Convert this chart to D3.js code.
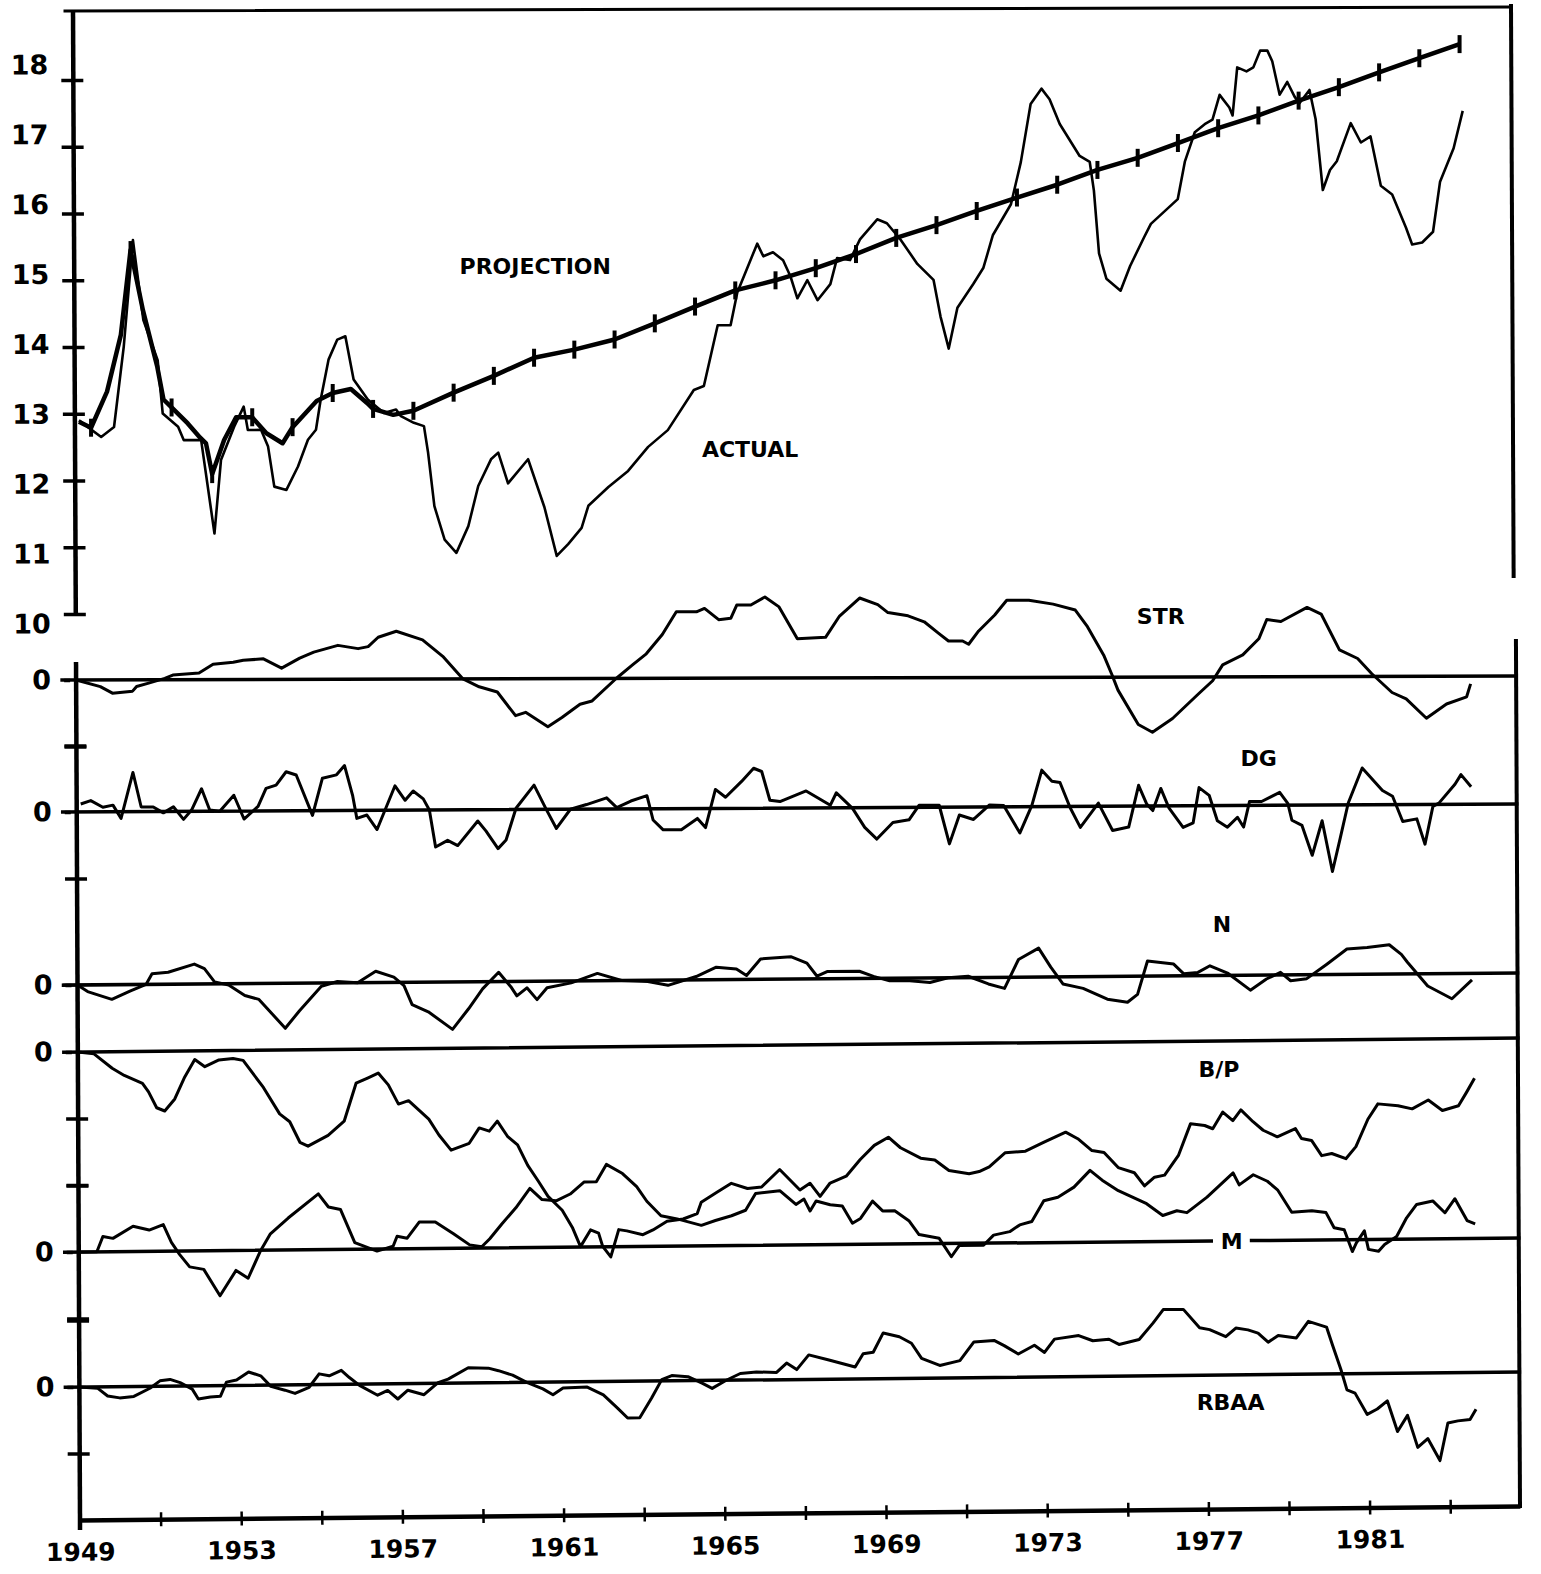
<!DOCTYPE html>
<html>
<head>
<meta charset="utf-8">
<script src="https://cdn.jsdelivr.net/npm/d3@7"></script>
<style>
  body { margin: 0; background: #fff; }
  text { font-family: "DejaVu Sans", sans-serif; font-weight: bold; fill: #000; }
</style>
</head>
<body>
<svg id="chart"></svg>
<script>
// ---- data ----
var actualYears = [1949.1, 1949.65, 1949.97, 1950.22, 1950.46, 1950.71, 1951.06, 1951.18, 1951.56, 1951.7,
  1952.13, 1952.45, 1952.62, 1952.95, 1953.19, 1953.29, 1953.62, 1953.79, 1953.94, 1954.24,
  1954.53, 1954.78, 1954.98, 1955.1, 1955.3, 1955.52, 1955.72, 1955.92, 1956.27, 1956.67,
  1956.97, 1957.09, 1957.41, 1957.66, 1957.76, 1957.91, 1958.16, 1958.45, 1958.75, 1959.0,
  1959.32, 1959.5, 1959.74, 1960.24, 1960.64, 1960.94, 1961.23, 1961.56, 1961.73, 1962.23,
  1962.72, 1963.22, 1963.71, 1964.36, 1964.61, 1964.96, 1965.28, 1965.45, 1965.95, 1966.1,
  1966.34, 1966.59, 1966.77, 1966.94, 1967.19, 1967.44, 1967.76, 1967.93, 1968.25, 1968.5,
  1968.93, 1969.17, 1969.5, 1969.92, 1970.32, 1970.49, 1970.69, 1970.91, 1971.31, 1971.56,
  1971.8, 1972.25, 1972.5, 1972.75, 1973.02, 1973.22, 1973.47, 1973.96, 1974.21, 1974.31,
  1974.43, 1974.61, 1974.96, 1975.2, 1975.55, 1975.72, 1976.39, 1976.57, 1976.82, 1977.09,
  1977.26, 1977.44, 1977.68, 1977.76, 1977.88, 1978.11, 1978.28, 1978.45, 1978.63, 1978.75,
  1978.93, 1979.12, 1979.3, 1979.42, 1979.67, 1979.82, 1979.99, 1980.17, 1980.34, 1980.69,
  1980.94, 1981.18, 1981.43, 1981.71, 1982.05, 1982.2, 1982.45, 1982.72, 1982.9, 1983.24, 1983.47];
var actualValues = [12.9, 12.65, 12.8, 14.0, 15.6, 14.4, 13.8, 13.0, 12.8, 12.6,
  12.6, 11.2, 12.3, 12.8, 13.1, 12.75, 12.75, 12.5, 11.9, 11.85,
  12.2, 12.6, 12.75, 13.2, 13.8, 14.1, 14.15, 13.5, 13.2, 13.0,
  13.05, 12.95, 12.85, 12.8, 12.4, 11.6, 11.1, 10.9, 11.3, 11.9,
  12.3, 12.4, 11.94, 12.3, 11.58, 10.85, 11.03, 11.27, 11.6, 11.88,
  12.12, 12.48, 12.73, 13.33, 13.39, 14.3, 14.3, 14.79, 15.52, 15.33,
  15.39, 15.27, 15.03, 14.7, 14.97, 14.67, 14.91, 15.3, 15.27, 15.58,
  15.88, 15.82, 15.58, 15.21, 14.97, 14.42, 13.94, 14.55, 14.91, 15.15,
  15.64, 16.1, 16.73, 17.6, 17.83, 17.67, 17.3, 16.82, 16.73, 16.3,
  15.36, 14.98, 14.8, 15.17, 15.6, 15.8, 16.17, 16.73, 17.17, 17.3,
  17.36, 17.73, 17.54, 17.42, 18.14, 18.08, 18.14, 18.39, 18.39, 18.23,
  17.73, 17.92, 17.7, 17.6, 17.8, 17.36, 16.3, 16.6, 16.73, 17.3,
  17.01, 17.1, 16.36, 16.23, 15.73, 15.48, 15.51, 15.67, 16.42, 16.92, 17.48];

var projYears = [1949.1, 1949.4, 1949.8, 1950.15, 1950.4, 1950.7, 1951.05, 1951.2, 1951.4, 1951.8,
  1952.1, 1952.25, 1952.4, 1952.7, 1953.0, 1953.4, 1953.75, 1954.15, 1954.4, 1955.0,
  1955.4, 1955.85, 1956.25, 1956.4, 1956.9, 1957.4, 1958.4, 1959.4, 1960.4, 1961.4,
  1962.4, 1963.4, 1964.4, 1965.4, 1966.4, 1967.4, 1968.4, 1969.4, 1970.4, 1971.4,
  1972.4, 1973.4, 1974.4, 1975.4, 1976.4, 1977.4, 1978.4, 1979.4, 1980.4, 1981.4,
  1982.4, 1983.4];
var projValues = [12.88, 12.79, 13.33, 14.18, 15.45, 14.55, 13.7, 13.21, 13.09, 12.85,
  12.64, 12.55, 12.09, 12.6, 12.94, 12.94, 12.7, 12.55, 12.79, 13.18,
  13.3, 13.36, 13.15, 13.06, 12.97, 13.03, 13.3, 13.55, 13.82, 13.94,
  14.09, 14.33, 14.58, 14.82, 14.97, 15.15, 15.36, 15.6, 15.79, 16.0,
  16.2, 16.39, 16.61, 16.79, 17.01, 17.23, 17.42, 17.64, 17.84, 18.06,
  18.27, 18.48];
var projMarkYears = [1949.4, 1950.4, 1951.4, 1952.4, 1953.4, 1954.4, 1955.4, 1956.4, 1957.4, 1958.4,
  1959.4, 1960.4, 1961.4, 1962.4, 1963.4, 1964.4, 1965.4, 1966.4, 1967.4, 1968.4,
  1969.4, 1970.4, 1971.4, 1972.4, 1973.4, 1974.4, 1975.4, 1976.4, 1977.4, 1978.4,
  1979.4, 1980.4, 1981.4, 1982.4, 1983.4];

var strYears = [1949.0, 1949.6, 1949.9, 1950.4, 1950.5, 1950.8, 1951.2, 1951.4, 1952.05, 1952.4,
  1952.9, 1953.15, 1953.65, 1954.1, 1954.55, 1954.9, 1955.5, 1956.0, 1956.25, 1956.5,
  1956.95, 1957.6, 1958.1, 1958.6, 1959.0, 1959.45, 1959.9, 1960.15, 1960.7, 1961.05,
  1961.5, 1961.8, 1962.4, 1962.8, 1963.15, 1963.55, 1963.9, 1964.4, 1964.6, 1964.95,
  1965.25, 1965.4, 1965.75, 1966.1, 1966.45, 1966.9, 1967.6, 1967.95, 1968.45, 1968.9,
  1969.15, 1969.65, 1970.05, 1970.4, 1970.65, 1971.0, 1971.15, 1971.4, 1971.8, 1972.1,
  1972.65, 1973.25, 1973.8, 1974.1, 1974.5, 1974.7, 1974.85, 1975.35, 1975.7, 1976.2,
  1976.85, 1977.2, 1977.45, 1977.95, 1978.35, 1978.55, 1978.9, 1979.55, 1979.9, 1980.35,
  1980.8, 1981.15, 1981.65, 1982.0, 1982.5, 1983.0, 1983.5, 1983.6];
var strValues = [0, -0.1, -0.2, -0.17, -0.1, -0.05, 0.02, 0.07, 0.1, 0.23,
  0.26, 0.29, 0.31, 0.17, 0.32, 0.41, 0.51, 0.46, 0.49, 0.63,
  0.72, 0.59, 0.34, 0, -0.12, -0.2, -0.56, -0.51, -0.73, -0.59,
  -0.39, -0.34, 0, 0.2, 0.37, 0.66, 1.0, 1.0, 1.05, 0.88,
  0.9, 1.1, 1.1, 1.22, 1.07, 0.59, 0.61, 0.93, 1.2, 1.1,
  0.98, 0.93, 0.84, 0.67, 0.55, 0.55, 0.5, 0.7, 0.94, 1.16,
  1.16, 1.1, 1.01, 0.76, 0.33, 0.04, -0.2, -0.73, -0.85, -0.64,
  -0.26, -0.06, 0.18, 0.33, 0.57, 0.86, 0.83, 1.04, 0.94, 0.4,
  0.27, 0.04, -0.25, -0.35, -0.65, -0.43, -0.32, -0.12];

var dgYears = [1949.1, 1949.35, 1949.65, 1949.9, 1950.1, 1950.4, 1950.6, 1950.9, 1951.15, 1951.4,
  1951.65, 1951.85, 1952.1, 1952.3, 1952.55, 1952.9, 1953.15, 1953.5, 1953.7, 1953.95,
  1954.2, 1954.45, 1954.85, 1955.1, 1955.45, 1955.65, 1955.85, 1955.95, 1956.2, 1956.45,
  1956.9, 1957.15, 1957.35, 1957.6, 1957.75, 1957.9, 1958.2, 1958.45, 1958.95, 1959.15,
  1959.45, 1959.65, 1959.9, 1960.35, 1960.65, 1960.9, 1961.25, 1961.65, 1962.15, 1962.4,
  1962.75, 1963.15, 1963.3, 1963.55, 1964.0, 1964.4, 1964.6, 1964.85, 1965.1, 1965.5,
  1965.8, 1966.0, 1966.2, 1966.45, 1967.1, 1967.7, 1967.85, 1968.0, 1968.25, 1968.55,
  1968.85, 1969.25, 1969.65, 1969.9, 1970.4, 1970.65, 1970.9, 1971.25, 1971.65, 1972.0,
  1972.4, 1972.7, 1972.95, 1973.2, 1973.4, 1973.65, 1973.9, 1974.35, 1974.7, 1975.1,
  1975.35, 1975.55, 1975.7, 1975.9, 1976.1, 1976.45, 1976.7, 1976.85, 1977.1, 1977.3,
  1977.55, 1977.8, 1977.95, 1978.1, 1978.4, 1978.85, 1979.05, 1979.15, 1979.4, 1979.65,
  1979.9, 1980.15, 1980.35, 1980.55, 1980.9, 1981.4, 1981.65, 1981.9, 1982.25, 1982.45,
  1982.65, 1982.8, 1983.2, 1983.35, 1983.6];
var dgValues = [0.12, 0.17, 0.07, 0.1, -0.1, 0.59, 0.07, 0.07, -0.02, 0.07,
  -0.12, 0.02, 0.34, 0.02, 0, 0.24, -0.12, 0.07, 0.34, 0.39,
  0.59, 0.54, -0.07, 0.49, 0.54, 0.68, 0.22, -0.12, -0.07, -0.29,
  0.37, 0.15, 0.29, 0.17, 0, -0.56, -0.46, -0.54, -0.17, -0.32,
  -0.59, -0.46, 0.02, 0.37, 0, -0.29, 0, 0.07, 0.17, 0.02,
  0.12, 0.2, -0.17, -0.32, -0.32, -0.15, -0.29, 0.29, 0.17, 0.41,
  0.61, 0.56, 0.12, 0.1, 0.26, 0.04, 0.23, 0.14, -0.01, -0.3,
  -0.48, -0.23, -0.19, 0.03, 0.03, -0.56, -0.12, -0.19, 0.03, 0.02,
  -0.4, 0.02, 0.56, 0.39, 0.37, -0.02, -0.32, 0.05, -0.37, -0.32,
  0.32, 0.03, -0.07, 0.27, -0.03, -0.33, -0.26, 0.28, 0.16, -0.23,
  -0.33, -0.18, -0.33, 0.06, 0.06, 0.2, 0.03, -0.23, -0.31, -0.77,
  -0.24, -1.02, -0.5, 0.03, 0.57, 0.22, 0.13, -0.26, -0.22, -0.61,
  -0.03, 0.02, 0.31, 0.46, 0.27];

var nYears = [1949.0, 1949.25, 1949.85, 1950.3, 1950.7, 1950.85, 1951.25, 1951.9, 1952.15, 1952.4,
  1952.75, 1953.15, 1953.5, 1954.15, 1954.5, 1955.05, 1955.45, 1955.95, 1956.4, 1956.85,
  1957.1, 1957.3, 1957.7, 1958.3, 1958.7, 1959.05, 1959.45, 1959.75, 1959.9, 1960.15,
  1960.4, 1960.65, 1961.25, 1961.9, 1962.5, 1963.15, 1963.65, 1964.35, 1964.85, 1965.35,
  1965.6, 1965.95, 1966.7, 1967.1, 1967.35, 1967.6, 1968.4, 1968.75, 1969.15, 1969.65,
  1970.15, 1970.6, 1971.1, 1971.6, 1972.0, 1972.35, 1972.85, 1973.15, 1973.45, 1973.95,
  1974.55, 1975.05, 1975.3, 1975.55, 1976.2, 1976.45, 1976.8, 1977.1, 1977.55, 1978.1,
  1978.5, 1978.85, 1979.1, 1979.5, 1980.0, 1980.5, 1981.0, 1981.55, 1981.85, 1982.0,
  1982.5, 1983.1, 1983.6];
var nValues = [0, -0.1, -0.22, -0.1, 0.0, 0.16, 0.18, 0.3, 0.23, 0.03,
  -0.02, -0.18, -0.24, -0.68, -0.42, -0.05, 0.02, 0, 0.17, 0.08,
  -0.05, -0.34, -0.45, -0.72, -0.41, -0.11, 0.14, -0.08, -0.22, -0.1,
  -0.28, -0.1, -0.03, 0.11, 0.0, -0.02, -0.08, 0.05, 0.19, 0.16,
  0.06, 0.31, 0.34, 0.24, 0.04, 0.11, 0.11, 0.03, -0.04, -0.04,
  -0.07, 0, 0.02, -0.1, -0.17, 0.27, 0.44, 0.15, -0.11, -0.18,
  -0.35, -0.4, -0.28, 0.23, 0.18, 0.03, 0.05, 0.15, 0.03, -0.23,
  -0.06, 0.04, -0.09, -0.06, 0.16, 0.39, 0.41, 0.45, 0.3, 0.18,
  -0.19, -0.39, -0.1];

var bpYears = [1949.0, 1949.4, 1949.85, 1950.15, 1950.6, 1950.75, 1950.95, 1951.15, 1951.4, 1951.65,
  1951.9, 1952.15, 1952.5, 1952.85, 1953.1, 1953.6, 1954.0, 1954.25, 1954.5, 1954.7,
  1955.2, 1955.6, 1955.9, 1956.2, 1956.45, 1956.7, 1956.95, 1957.2, 1957.7, 1957.95,
  1958.25, 1958.7, 1958.95, 1959.2, 1959.4, 1959.65, 1959.9, 1960.15, 1960.4, 1960.65,
  1961.0, 1961.25, 1961.45, 1961.7, 1961.9, 1962.0, 1962.2, 1962.4, 1962.6, 1963.0,
  1963.25, 1963.6, 1964.0, 1964.35, 1964.45, 1964.85, 1965.2, 1965.6, 1965.95, 1966.4,
  1966.9, 1967.15, 1967.4, 1967.65, 1968.05, 1968.4, 1968.75, 1969.1, 1969.4, 1969.9,
  1970.25, 1970.6, 1971.1, 1971.35, 1971.6, 1972.0, 1972.5, 1972.95, 1973.5, 1973.8,
  1974.15, 1974.45, 1974.8, 1975.2, 1975.45, 1975.7, 1975.95, 1976.3, 1976.6, 1976.95,
  1977.15, 1977.4, 1977.65, 1977.85, 1978.15, 1978.4, 1978.75, 1979.2, 1979.35, 1979.6,
  1979.85, 1980.1, 1980.45, 1980.7, 1981.0, 1981.25, 1981.75, 1982.1, 1982.5, 1982.85,
  1983.25, 1983.45, 1983.65];
var bpValues = [0, -0.03, -0.25, -0.36, -0.48, -0.61, -0.85, -0.9, -0.72, -0.39,
  -0.13, -0.24, -0.14, -0.12, -0.15, -0.56, -0.96, -1.08, -1.39, -1.45,
  -1.29, -1.08, -0.51, -0.43, -0.36, -0.54, -0.83, -0.78, -1.06, -1.3,
  -1.53, -1.43, -1.2, -1.25, -1.1, -1.33, -1.46, -1.77, -2.0, -2.24,
  -2.45, -2.71, -3.0, -2.75, -2.8, -3.0, -3.16, -2.75, -2.77, -2.83,
  -2.76, -2.63, -2.6, -2.52, -2.35, -2.2, -2.07, -2.15, -2.13, -1.87,
  -2.18, -2.08, -2.28, -2.08, -1.98, -1.73, -1.52, -1.4, -1.56, -1.72,
  -1.75, -1.91, -1.96, -1.93, -1.86, -1.65, -1.63, -1.5, -1.35, -1.45,
  -1.63, -1.66, -1.89, -1.97, -2.17, -2.04, -2.01, -1.71, -1.24, -1.27,
  -1.32, -1.07, -1.2, -1.04, -1.22, -1.35, -1.45, -1.33, -1.48, -1.51,
  -1.74, -1.71, -1.79, -1.61, -1.2, -0.97, -1.0, -1.05, -0.92, -1.08,
  -1.01, -0.81, -0.6];

var mYears = [1949.0, 1949.45, 1949.6, 1949.85, 1950.35, 1950.75, 1951.1, 1951.3, 1951.5, 1951.75,
  1952.1, 1952.5, 1952.9, 1953.2, 1953.5, 1953.75, 1954.2, 1954.95, 1955.2, 1955.5,
  1955.85, 1956.4, 1956.8, 1956.9, 1957.15, 1957.45, 1957.85, 1958.3, 1958.7, 1959.0,
  1959.2, 1959.5, 1959.85, 1960.2, 1960.5, 1960.85, 1961.2, 1961.55, 1961.85, 1962.1,
  1962.5, 1962.85, 1963.1, 1963.45, 1963.85, 1964.45, 1964.8, 1965.2, 1965.55, 1965.8,
  1966.4, 1966.8, 1967.0, 1967.15, 1967.3, 1967.65, 1967.95, 1968.2, 1968.4, 1968.7,
  1968.95, 1969.25, 1969.6, 1969.85, 1970.35, 1970.65, 1970.85, 1971.45, 1971.7, 1972.1,
  1972.35, 1972.65, 1972.95, 1973.3, 1973.7, 1974.1, 1974.4, 1974.8, 1975.15, 1975.5,
  1975.9, 1976.25, 1976.5, 1977.0, 1977.65, 1977.8, 1978.15, 1978.5, 1978.75, 1979.1,
  1979.6, 1979.95, 1980.15, 1980.4, 1980.6, 1980.7, 1980.9, 1981.0, 1981.25, 1981.4,
  1981.7, 1981.95, 1982.2, 1982.6, 1982.9, 1983.15, 1983.45, 1983.65];
var mValues = [0, 0, 0.23, 0.2, 0.38, 0.32, 0.4, 0.13, -0.05, -0.24,
  -0.28, -0.68, -0.3, -0.42, -0.02, 0.24, 0.48, 0.84, 0.64, 0.6,
  0.1, -0.03, 0.04, 0.19, 0.16, 0.4, 0.4, 0.22, 0.05, 0.02,
  0.14, 0.36, 0.6, 0.89, 0.72, 0.7, 0.8, 0.98, 0.98, 1.24,
  1.1, 0.9, 0.68, 0.46, 0.41, 0.31, 0.38, 0.45, 0.53, 0.78,
  0.82, 0.61, 0.69, 0.51, 0.66, 0.6, 0.58, 0.32, 0.39, 0.65,
  0.5, 0.5, 0.35, 0.14, 0.08, -0.2, -0.03, -0.03, 0.12, 0.17,
  0.27, 0.32, 0.63, 0.68, 0.83, 1.08, 0.93, 0.77, 0.67, 0.57,
  0.39, 0.46, 0.43, 0.66, 1.02, 0.84, 0.99, 0.89, 0.76, 0.42,
  0.44, 0.41, 0.18, 0.15, -0.18, -0.05, 0.13, -0.15, -0.18, -0.08,
  0.04, 0.32, 0.52, 0.57, 0.39, 0.6, 0.27, 0.22];

var rbaaYears = [1949.0, 1949.45, 1949.7, 1950.0, 1950.35, 1950.75, 1951.0, 1951.25, 1951.5, 1951.8,
  1951.95, 1952.25, 1952.5, 1952.65, 1952.9, 1953.2, 1953.5, 1953.75, 1954.1, 1954.35,
  1954.7, 1954.95, 1955.2, 1955.5, 1955.7, 1955.95, 1956.4, 1956.65, 1956.9, 1957.15,
  1957.55, 1957.9, 1958.15, 1958.65, 1959.15, 1959.4, 1959.75, 1960.1, 1960.5, 1960.75,
  1961.0, 1961.6, 1962.0, 1962.35, 1962.6, 1962.9, 1963.2, 1963.45, 1963.7, 1964.1,
  1964.45, 1964.7, 1965.05, 1965.4, 1965.8, 1966.3, 1966.55, 1966.8, 1967.1, 1967.6,
  1968.25, 1968.45, 1968.7, 1968.95, 1969.35, 1969.65, 1969.9, 1970.35, 1970.85, 1971.2,
  1971.7, 1971.95, 1972.3, 1972.7, 1972.95, 1973.2, 1973.8, 1974.15, 1974.55, 1974.8,
  1975.3, 1975.65, 1975.9, 1976.4, 1976.8, 1977.05, 1977.45, 1977.7, 1978.0, 1978.25,
  1978.5, 1978.75, 1979.2, 1979.5, 1979.95, 1980.1, 1980.3, 1980.45, 1980.65, 1980.95,
  1981.2, 1981.45, 1981.7, 1981.95, 1982.2, 1982.45, 1982.75, 1982.95, 1983.2, 1983.5, 1983.65];
var rbaaValues = [0, -0.02, -0.14, -0.17, -0.15, -0.03, 0.08, 0.1, 0.05, -0.05,
  -0.2, -0.17, -0.16, 0.05, 0.08, 0.2, 0.14, -0.02, -0.08, -0.13,
  -0.04, 0.16, 0.13, 0.21, 0.1, -0.02, -0.17, -0.1, -0.23, -0.1,
  -0.17, 0.01, 0.06, 0.23, 0.22, 0.18, 0.11, 0, -0.1, -0.19,
  -0.09, -0.08, -0.2, -0.4, -0.55, -0.55, -0.25, 0.02, 0.08, 0.06,
  -0.04, -0.12, 0, 0.1, 0.12, 0.11, 0.25, 0.15, 0.37, 0.29,
  0.18, 0.38, 0.4, 0.69, 0.63, 0.53, 0.3, 0.19, 0.26, 0.54,
  0.56, 0.48, 0.35, 0.48, 0.37, 0.57, 0.62, 0.54, 0.56, 0.48,
  0.55, 0.8, 1.0, 1.0, 0.72, 0.69, 0.58, 0.71, 0.68, 0.63,
  0.49, 0.59, 0.55, 0.8, 0.71, 0.43, 0.07, -0.24, -0.29, -0.61,
  -0.53, -0.41, -0.87, -0.63, -1.11, -0.98, -1.31, -0.75, -0.72, -0.7, -0.55];

var topTicks = [10, 11, 12, 13, 14, 15, 16, 17, 18];
var yearTicks = [1949, 1951, 1953, 1955, 1957, 1959, 1961, 1963, 1965, 1967, 1969, 1971, 1973, 1975, 1977, 1979, 1981, 1983];
var yearLabels = [1949, 1953, 1957, 1961, 1965, 1969, 1973, 1977, 1981];

// ---- layout ----
var W = 1541, H = 1574;
var left = 80, right = 1520, bottom = 1520;
var unit = 66.5;

var svg = d3.select("#chart").attr("width", W).attr("height", H);

var x = d3.scaleLinear().domain([1949, 1984.73]).range([left, right]);
var yTop = d3.scaleLinear().domain([10, 18]).range([614, 80]);

// the scanned page is slightly skewed: lower parts lean more than the top
var tilt = d3.scaleLinear()
    .domain([10, 680, 812, 985, 1052, 1252, 1387, bottom])
    .range([4, 4, 8, 12, 14, 14, 15, 14]).clamp(true);
var lean = d3.scaleLinear().domain([10, bottom]).range([-7, 0]);
function warp(px, py) {
    return [px + lean(py), py - (px - left) * tilt(py) / (right - left)];
}
var axisAngle = -Math.atan(7 / (bottom - 10)) * 180 / Math.PI;
var baseAngle = -Math.atan(tilt(bottom) / (right - left)) * 180 / Math.PI;

var line = d3.line().curve(d3.curveLinear);

function points(years, values, yScale) {
    return years.map(function(t, i) {
        return warp(x(t), yScale(values[i]));
    });
}

function segment(x1, y1, x2, y2, width) {
    var a = warp(x1, y1), b = warp(x2, y2);
    svg.append("line")
        .attr("x1", a[0]).attr("y1", a[1])
        .attr("x2", b[0]).attr("y2", b[1])
        .attr("stroke", "#000")
        .attr("stroke-width", width)
        .attr("stroke-linecap", "square");
}

// ---- frame ----
segment(left - 8, 11, 1518, 11, 3);
segment(1518, 10, 1518, 580, 4);
segment(right, 645, right, bottom, 4);

// ---- panels ----
var panels = [
    {key: "STR", zero: 680, years: strYears, values: strValues, ticks: [0, -1]},
    {key: "DG", zero: 812, years: dgYears, values: dgValues, ticks: [1, 0, -1]},
    {key: "N", zero: 985, years: nYears, values: nValues, ticks: [0]},
    {key: "B/P", zero: 1052, years: bpYears, values: bpValues, ticks: [0, -1, -2]},
    {key: "M", zero: 1252, years: mYears, values: mValues, ticks: [1, 0, -1]},
    {key: "RBAA", zero: 1387, years: rbaaYears, values: rbaaValues, ticks: [1, 0, -1]}
];
panels.forEach(function(p) {
    p.y = d3.scaleLinear().domain([0, 1]).range([p.zero, p.zero - unit]);
});

// zero lines (the M line is broken where its label sits)
panels.forEach(function(p) {
    if (p.key === "M") {
        segment(left - 14, p.zero, x(1977.1), p.zero, 3.5);
        segment(x(1978.1), p.zero, right, p.zero, 3.5);
    } else {
        segment(left - 14, p.zero, right, p.zero, 3.5);
    }
});

// series
panels.forEach(function(p) {
    svg.append("path")
        .attr("d", line(points(p.years, p.values, p.y)))
        .attr("fill", "none")
        .attr("stroke", "#000")
        .attr("stroke-width", 3)
        .attr("stroke-linejoin", "round");
});

svg.append("path")
    .attr("d", line(points(actualYears, actualValues, yTop)))
    .attr("fill", "none")
    .attr("stroke", "#000")
    .attr("stroke-width", 2.6)
    .attr("stroke-linejoin", "round");

svg.append("path")
    .attr("d", line(points(projYears, projValues, yTop)))
    .attr("fill", "none")
    .attr("stroke", "#000")
    .attr("stroke-width", 4.5)
    .attr("stroke-linejoin", "round");

function projPoint(d) {
    return warp(x(d), yTop(projValues[projYears.indexOf(d)]));
}
svg.selectAll(".mark")
    .data(projMarkYears)
    .enter()
    .append("line")
    .attr("class", "mark")
    .attr("x1", function(d) { return projPoint(d)[0]; })
    .attr("x2", function(d) { return projPoint(d)[0]; })
    .attr("y1", function(d) { return projPoint(d)[1] - 9; })
    .attr("y2", function(d) { return projPoint(d)[1] + 9; })
    .attr("stroke", "#000")
    .attr("stroke-width", 4);

// ---- left axes ----
var leftGroup = svg.append("g")
    .attr("transform", "rotate(" + axisAngle + "," + left + "," + bottom + ")");

leftGroup.append("line")
    .attr("x1", left).attr("x2", left)
    .attr("y1", 10).attr("y2", yTop(10))
    .attr("stroke", "#000").attr("stroke-width", 4.5);
leftGroup.append("line")
    .attr("x1", left).attr("x2", left)
    .attr("y1", 662).attr("y2", bottom + 10)
    .attr("stroke", "#000").attr("stroke-width", 4.5);

var labelShift = d3.scaleLinear().domain([10, 18]).range([10, -15]);

var topAxis = leftGroup.append("g")
    .attr("transform", "translate(" + left + ",0)")
    .call(d3.axisLeft(yTop).tickValues(topTicks).tickFormat(d3.format("d"))
        .tickSizeInner(12).tickSizeOuter(0).tickPadding(13));
topAxis.select(".domain").remove();
topAxis.selectAll(".tick line").attr("x1", 10).attr("stroke-width", 3.5);
topAxis.selectAll(".tick text")
    .attr("y", function(d) { return labelShift(d); })
    .attr("font-size", 27)
    .attr("font-family", "DejaVu Sans")
    .attr("font-weight", "bold");

panels.forEach(function(p) {
    var g = leftGroup.append("g")
        .attr("transform", "translate(" + left + ",0)")
        .call(d3.axisLeft(p.y).tickValues(p.ticks)
            .tickFormat(function(d) { return d === 0 ? "0" : ""; })
            .tickSizeInner(12).tickSizeOuter(0).tickPadding(13));
    g.select(".domain").remove();
    g.selectAll(".tick line")
        .attr("x1", function(d) { return d === 0 ? -6 : 10; })
        .attr("stroke-width", 3.5);
    g.selectAll(".tick text")
        .attr("font-size", 27)
        .attr("font-family", "DejaVu Sans")
        .attr("font-weight", "bold");
});

// ---- bottom axis ----
var bottomAxis = svg.append("g")
    .attr("transform", "rotate(" + baseAngle + "," + left + "," + bottom + ") translate(0," + bottom + ")")
    .call(d3.axisBottom(x).tickValues(yearTicks)
        .tickFormat(function(d) { return yearLabels.indexOf(d) >= 0 ? d : ""; })
        .tickSizeInner(7).tickSizeOuter(0).tickPadding(16));
bottomAxis.select(".domain").attr("stroke-width", 4.5);
bottomAxis.selectAll(".tick line").attr("y1", -7).attr("stroke-width", 2.5);
bottomAxis.selectAll(".tick text")
    .attr("font-size", 25)
    .attr("font-family", "DejaVu Sans")
    .attr("font-weight", "bold");

// ---- series names ----
var notes = [
    {text: "PROJECTION", panel: null, year: 1960.44, value: 15.19},
    {text: "ACTUAL", panel: null, year: 1965.75, value: 12.44},
    {text: "STR", panel: "STR", year: 1975.92, value: 0.92},
    {text: "DG", panel: "DG", year: 1978.33, value: 0.73},
    {text: "N", panel: "N", year: 1977.4, value: 0.78},
    {text: "B/P", panel: "B/P", year: 1977.31, value: -0.42},
    {text: "M", panel: "M", year: 1977.61, value: 0.0},
    {text: "RBAA", panel: "RBAA", year: 1977.56, value: -0.4}
];
function notePoint(d) {
    var ys = d.panel ? panels.filter(function(p) { return p.key === d.panel; })[0].y : yTop;
    return warp(x(d.year), ys(d.value));
}
svg.selectAll(".note")
    .data(notes)
    .enter()
    .append("text")
    .attr("class", "note")
    .attr("text-anchor", "middle")
    .attr("dy", "0.36em")
    .attr("font-size", 22)
    .attr("x", function(d) { return notePoint(d)[0]; })
    .attr("y", function(d) { return notePoint(d)[1]; })
    .text(function(d) { return d.text; });
</script>
</body>
</html>
